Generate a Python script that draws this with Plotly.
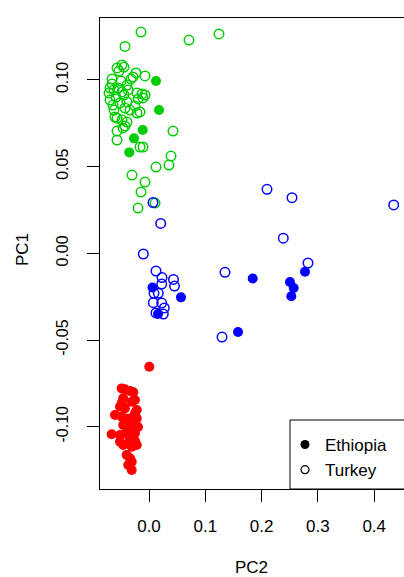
import plotly.graph_objects as go

# ---- data (PC2 = x, PC1 = y) ----
green_open_pc2 = [-0.0142, 0.0710, 0.1243, -0.0426, -0.0568, -0.0480, -0.0444, -0.0533, -0.0231, -0.0071,
                  -0.0320, -0.0284, -0.0657, -0.0657, -0.0693, -0.0622, -0.0551, -0.0480, -0.0444, -0.0213,
                  -0.0124, -0.0107, -0.0195, -0.0071, -0.0693, -0.0639, -0.0515, -0.0391, -0.0426, -0.0337,
                  -0.0213, -0.0160, -0.0249, -0.0568, -0.0480, -0.0391, -0.0604, -0.0426, -0.0568, -0.0568,
                  -0.0462, 0.0426, -0.0160, -0.0107, 0.0391, 0.0355, 0.0124, -0.0302, -0.0071, -0.0142,
                  -0.0195, 0.0107, -0.0710, -0.0586, -0.0373, -0.0391, -0.0497, -0.0622]
green_open_pc1 = [0.1276, 0.1230, 0.1265, 0.1193, 0.1069, 0.1086, 0.1074, 0.1051, 0.1040, 0.1023,
                  0.1005, 0.1017, 0.1005, 0.0976, 0.0953, 0.0942, 0.0953, 0.0930, 0.0913, 0.0924,
                  0.0919, 0.0896, 0.0890, 0.0913, 0.0884, 0.0855, 0.0867, 0.0873, 0.0838, 0.0826,
                  0.0809, 0.0815, 0.0849, 0.0780, 0.0769, 0.0757, 0.0786, 0.0734, 0.0705, 0.0653,
                  0.0723, 0.0705, 0.0613, 0.0613, 0.0561, 0.0509, 0.0497, 0.0451, 0.0411, 0.0353,
                  0.0261, 0.0290, 0.0924, 0.0901, 0.0942, 0.0970, 0.0993, 0.0826]

green_fill_pc2 = [0.0124, 0.0178, -0.0112, -0.0266, -0.0350]
green_fill_pc1 = [0.0994, 0.0826, 0.0711, 0.0663, 0.0582]

blue_open_pc2 = [0.0071, 0.0208, -0.0101, 0.0124, 0.0231, 0.0435, 0.0453, 0.0226, 0.0089, 0.0165,
                 0.0076, 0.0226, 0.0272, 0.0124, 0.0254, 0.1350, 0.1297, 0.2096, 0.2540, 0.4346,
                 0.2385, 0.2824]
blue_open_pc1 = [0.0293, 0.0172, -0.0004, -0.0102, -0.0140, -0.0151, -0.0189, -0.0177, -0.0231, -0.0231,
                 -0.0285, -0.0287, -0.0315, -0.0344, -0.0350, -0.0110, -0.0483, 0.0369, 0.0321, 0.0279,
                 0.0087, -0.0056]

blue_fill_pc2 = [0.0062, 0.0568, 0.0160, 0.1842, 0.1581, 0.2504, 0.2570, 0.2528, 0.2771]
blue_fill_pc1 = [-0.0197, -0.0254, -0.0350, -0.0145, -0.0454, -0.0166, -0.0200, -0.0248, -0.0106]

red_fill_pc2 = [0.0005, -0.0485, -0.0426, -0.0337, -0.0279, -0.0458, -0.0249, -0.0307, -0.0515, -0.0426,
                -0.0218, -0.0249, -0.0604, -0.0485, -0.0368, -0.0218, -0.0458, -0.0279, -0.0396, -0.0663,
                -0.0515, -0.0368, -0.0249, -0.0515, -0.0337, -0.0249, -0.0458, -0.0307, -0.0218, -0.0396,
                -0.0337, -0.0307, -0.0368, -0.0307, -0.0485, -0.0195]
red_fill_pc1 = [-0.0654, -0.0779, -0.0784, -0.0794, -0.0802, -0.0836, -0.0846, -0.0856, -0.0885, -0.0894,
                -0.0904, -0.0923, -0.0933, -0.0942, -0.0952, -0.0952, -0.0990, -0.0990, -0.1009, -0.1044,
                -0.1048, -0.1048, -0.1038, -0.1087, -0.1077, -0.1082, -0.1106, -0.1115, -0.1106, -0.1163,
                -0.1182, -0.1202, -0.1221, -0.1250, -0.0864, -0.1002]

x_ticks = [0.0, 0.1, 0.2, 0.3, 0.4]
x_tick_labels = ["0.0", "0.1", "0.2", "0.3", "0.4"]
y_ticks = [-0.10, -0.05, 0.00, 0.05, 0.10]
y_tick_labels = ["-0.10", "-0.05", "0.00", "0.05", "0.10"]
legend_names = ["Ethiopia", "Turkey"]

GREEN = "rgb(0,205,0)"
BLUE = "rgb(0,0,255)"
RED = "rgb(255,0,0)"
FONT = "Liberation Sans, Arial, Helvetica, sans-serif"

fig = go.Figure()

def add(xs, ys, color, filled):
    fig.add_trace(go.Scatter(
        x=xs, y=ys, mode="markers", showlegend=False, hoverinfo="skip",
        marker=dict(symbol="circle" if filled else "circle-open", size=10 if filled else 9.5,
                    color=color, line=dict(width=0 if filled else 1.5, color=color))))

add(green_open_pc2, green_open_pc1, GREEN, False)
add(blue_open_pc2, blue_open_pc1, BLUE, False)
add(green_fill_pc2, green_fill_pc1, GREEN, True)
add(blue_fill_pc2, blue_fill_pc1, BLUE, True)
add(red_fill_pc2, red_fill_pc1, RED, True)

# legend entries (black symbols)
fig.add_trace(go.Scatter(x=[None], y=[None], mode="markers", name=legend_names[0],
                         marker=dict(symbol="circle", size=9, color="black")))
fig.add_trace(go.Scatter(x=[None], y=[None], mode="markers", name=legend_names[1],
                         marker=dict(symbol="circle-open", size=8, color="black", line=dict(width=1.2))))

W, H = 404, 577
L, T, B = 100, 18, 88
plot_h = H - T - B

fig.update_layout(
    width=W, height=H,
    margin=dict(l=L, r=0, t=T, b=B),
    paper_bgcolor="white", plot_bgcolor="white",
    font=dict(family=FONT, size=16, color="black"),
    showlegend=True,
    legend=dict(x=(285 - L) / 304, xanchor="left", y=(489 - 427) / plot_h, yanchor="top",
                bgcolor="rgba(0,0,0,0)", borderwidth=0, font=dict(size=17),
                itemsizing="trace", tracegroupgap=0),
    xaxis=dict(range=[-0.08703, 0.45293], tickvals=x_ticks, ticktext=x_tick_labels,
               showgrid=False, zeroline=False, showline=True, linecolor="black", linewidth=1,
               mirror=True, ticks="outside", ticklen=12, tickwidth=1, tickcolor="black",
               ticklabelstandoff=10, tickfont=dict(size=17)),
    yaxis=dict(range=[-0.13593, 0.13570], tickvals=y_ticks, ticktext=y_tick_labels,
               showgrid=False, zeroline=False, showline=True, linecolor="black", linewidth=1,
               mirror=False, ticks="outside", ticklen=12, tickwidth=1, tickcolor="black",
               tickangle=-90, ticklabelstandoff=13, tickfont=dict(size=16)),
    shapes=[dict(type="rect", xref="paper", yref="paper",
                 x0=(290 - L) / 304, x1=1.05, y0=0, y1=(489 - 420) / plot_h,
                 line=dict(color="black", width=1), fillcolor="rgba(0,0,0,0)")],
    annotations=[
        dict(text="PC2", xref="paper", yref="paper", x=(251 - L) / 304, y=(489 - 567) / plot_h,
             xanchor="center", yanchor="middle", showarrow=False, font=dict(size=17)),
        dict(text="PC1", xref="paper", yref="paper", x=(22 - L) / 304, y=(489 - 250) / plot_h,
             xanchor="center", yanchor="middle", showarrow=False, textangle=-90, font=dict(size=17)),
    ],
)

fig.write_html("out.html")
